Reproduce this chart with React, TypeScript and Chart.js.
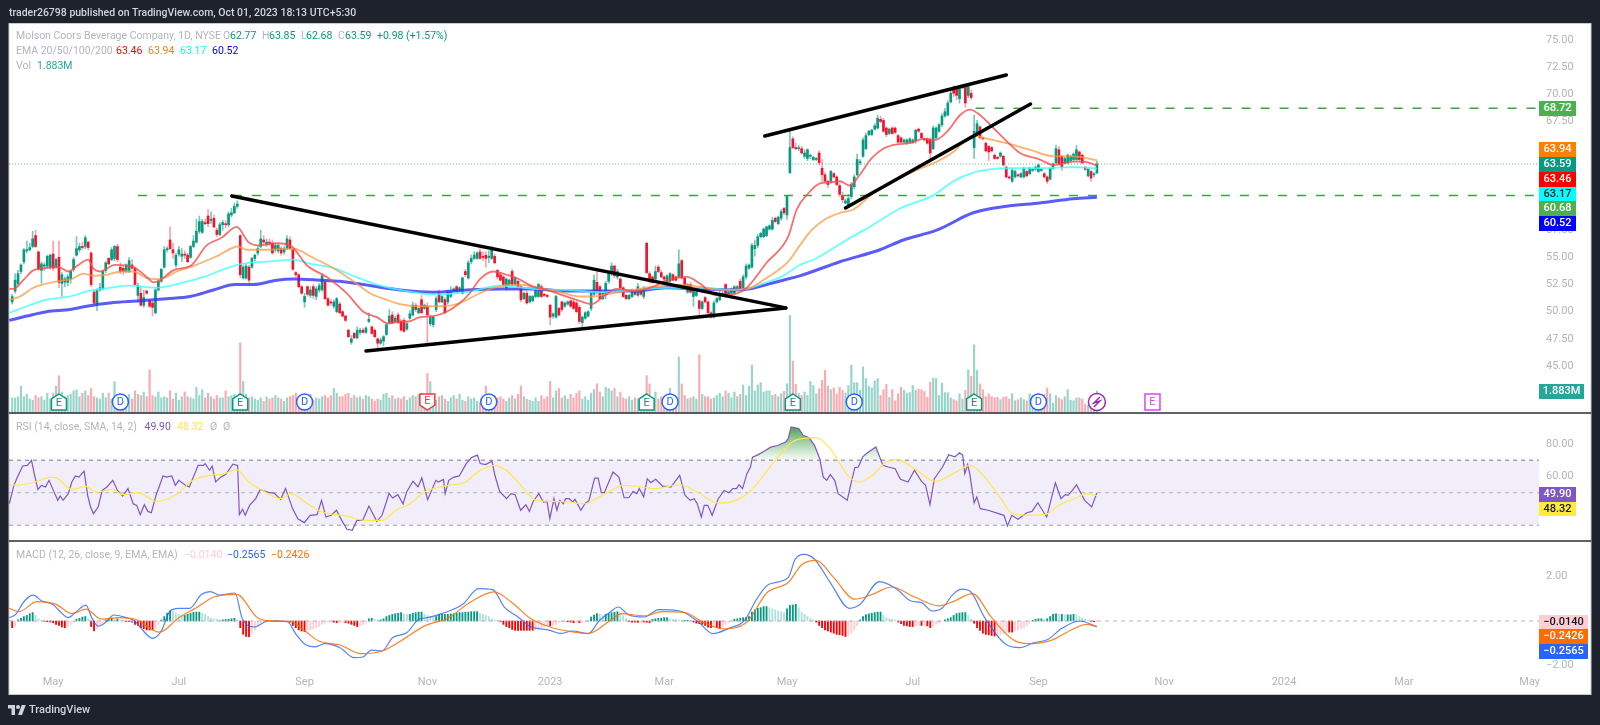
import React, { useEffect, useRef } from "react";
import { Chart, registerables } from "chart.js";

Chart.register(...registerables);

// one row of ten candles per line: open, high, low, close
const ohlc: number[][] = [
  [50.9,51.6,50.7,51.4],[51.9,53.5,51.7,52.9],[52.6,53.8,52.4,53.5],[53.7,54.4,53.5,54.3],[54.6,55.8,54.4,55.7],[55.6,56.5,55.4,55.7],[55.7,56.3,55.6,55.9],[56,57.4,55.9,56.7],[57,57.5,55.9,56],[55.5,55.6,53.8,53.9],
  [53.8,54.6,52.6,54.4],[54.2,54.5,53.8,54.3],[54.2,55.2,54,55.1],[54.1,55.3,53.9,55.2],[55.3,56.5,53.8,54],[54.1,54.9,54,54.8],[55,56.5,52.2,52.7],[52.6,53.6,51.4,53.4],[52.7,53.2,52.3,53],[52.7,53.4,52.4,53.2],
  [53,53.8,52.6,53.7],[53.9,55,53.7,54.8],[55.2,56.9,55.1,55.8],[55.7,56.3,55.5,56],[56,56.4,55.7,55.9],[56,57,55.8,56.8],[56.4,56.5,55.7,55.9],[55.4,55.5,52.3,52.5],[51.8,52,50.6,50.8],[50.7,52.1,50.1,52],
  [52,52.6,51.9,52.2],[52.1,53.8,52,53.7],[53.8,54.6,53.6,54.5],[54.9,55,54.3,54.4],[54.8,55.9,54.7,55.7],[54.9,56.1,54.7,56],[56,56.2,54.6,54.8],[54.1,54.5,53.5,53.7],[54,54.2,53.4,53.7],[53.7,54.4,53.6,54.3],
  [53.7,55,53.6,54.7],[54.3,54.8,53.9,54],[54,54.1,52.4,52.5],[51.5,52.6,50.9,52.4],[51.7,52.3,50.5,50.6],[50.6,52,50.4,51.3],[51.9,52,51.6,51.7],[51,51.1,50.4,50.5],[50.8,51,49.6,50.4],[49.9,52.1,49.8,52],
  [52,53,51.9,52.8],[52.8,54,52.7,53.9],[54.1,56,54,55.7],[55.7,56,55.5,55.8],[56.6,57.8,55.7,55.8],[55.7,56.3,54.9,55.4],[54.3,55.4,54.1,55.2],[55.3,56,55.1,55.7],[55.1,55.8,54.6,55.3],[55.3,55.6,54.9,55.2],
  [55.2,55.4,54.5,54.6],[55,56.1,54.9,56],[56,57,55.9,56.5],[56.4,58.5,56.3,57.4],[57.4,58.8,57.2,58.3],[57.3,58.5,57.2,58.3],[58.2,58.5,58,58.1],[58.8,59.4,57.8,58.1],[58.4,59.2,58.1,58.5],[58.6,58.9,57.7,57.8],
  [57.5,57.7,56.9,57.1],[57.1,58.2,57,58],[58,58.4,57.5,58.2],[58.1,58.4,57.7,58],[58,59.2,57.8,59],[58.9,59.5,58.7,59.1],[59.1,60,59,59.7],[59.7,60.2,59.5,59.9],[57,57.1,53.1,53.4],[53.1,54.3,53,54.1],
  [53.1,54.4,53,54.2],[54.1,54.3,52.7,52.9],[54.1,55,54,54.9],[54.9,55.3,54.7,55.2],[55.4,56,55.2,55.8],[56,57.5,55.9,56.7],[56.6,57,56.2,56.4],[56.2,56.7,56,56.4],[56.4,56.7,56.1,56.3],[56.3,56.6,55.3,55.4],
  [55.7,56.3,55.5,56.1],[55.6,56.2,55.4,56.1],[55.8,56,55.2,55.4],[55.5,56,55.3,55.8],[55.8,57,55.7,56.7],[56.6,56.9,55.7,55.8],[55.7,55.8,53.8,53.9],[53.6,53.7,53.2,53.4],[53.4,53.5,52.2,52.3],[52.3,52.4,51.6,51.7],
  [50.9,51.7,50.4,51.4],[52.3,52.4,51.4,51.6],[51.5,52.3,51.3,52],[52.3,52.5,51.2,51.5],[51.4,52.3,51.1,52.1],[52,52.6,51.8,52.4],[52,53.5,51.9,53.3],[52.7,52.8,51.1,51.2],[51.2,51.3,50.5,50.6],[50.9,51.1,50.6,50.8],
  [50.5,51.1,50.3,50.9],[50,51.3,49.9,51.2],[50.7,50.9,49.8,49.9],[50,50.1,49.5,49.6],[49.6,49.7,49.1,49.2],[48.3,48.4,47.6,47.7],[47.2,47.8,47,47.5],[48,48.1,47.5,47.6],[47.6,48.6,47.5,48.3],[48.1,48.5,47.9,48.3],
  [48.3,48.5,48,48.1],[48.1,48.6,48,48.5],[49.1,49.9,49,49.3],[48.6,48.7,47.9,48],[48.3,48.4,47.6,47.7],[47.5,47.6,46.7,47.1],[47.1,47.6,47,47.4],[47.3,47.8,46.9,47.7],[47.9,48.9,47.8,48.8],[49,50.2,48.9,49.6],
  [49.7,50,48.9,49],[49.1,49.6,49,49.4],[49.7,49.9,48.9,49],[49.1,49.3,48.2,48.3],[49.2,49.4,48.1,48.2],[48.4,49,48.3,48.9],[49.4,50.1,49.3,49.8],[49.7,50.9,49.6,50.6],[50.6,50.8,50,50.2],[49.9,50.4,49.8,50.3],
  [51.1,51.5,49.8,49.9],[50.3,50.7,50.2,50.6],[50.5,50.8,46.9,49.7],[48.9,49.7,48.7,49.5],[48.8,49.6,48.6,49.5],[50.2,51.4,50,51.2],[51.7,52,50.8,50.9],[50.9,51.5,50.8,51.4],[51.1,51.3,49.8,49.9],[50.9,52,50.7,51.8],
  [51.4,52.3,51.3,51.8],[51.9,52.2,51.8,52.1],[52.3,52.4,51.7,51.9],[52,52.3,51.9,52.2],[51.7,53.2,51.6,53.1],[53.7,53.9,53.2,53.4],[53.1,54.7,53,54.5],[54.6,55.2,54.4,54.9],[54.9,55.5,54.8,55.2],[54.9,55.5,54.8,55.4],
  [55.5,55.8,54.8,54.9],[55.1,55.5,54.7,55],[55.2,55.5,54.1,54.9],[55,55.6,54.5,55.1],[54.9,56,54.8,55.7],[55.1,55.3,54.4,54.5],[53.8,53.9,53,53.2],[53.4,53.6,52.8,52.9],[53.2,53.3,52.3,52.5],[52.2,53.1,52,53],
  [52.5,53,52.4,52.9],[53.7,53.9,52.3,52.5],[52.5,53.2,52.4,53.1],[52.8,52.9,52.2,52.3],[52.3,52.4,50.9,51.1],[51.2,51.8,51.1,51.7],[51.7,51.9,50.7,50.8],[50.9,51.5,50.8,51.4],[51,51.5,50.9,51.4],[51.4,52.1,51.3,52],
  [51.4,52.6,51.3,52.5],[52.3,52.5,51.3,51.4],[51.6,51.7,51.4,51.5],[51.5,51.6,51.3,51.4],[50.6,50.7,48.8,49.5],[49.6,49.9,49.4,49.8],[49.5,51.5,49.4,51.4],[50.3,50.4,49.6,49.7],[50.9,51,50,50.2],[50.5,50.9,50.4,50.8],
  [50.7,51,50.6,50.9],[51,51.1,50.4,50.5],[50.9,51.1,50.2,50.3],[50.8,51,49.9,50],[50.4,50.6,48.9,49.1],[49,49.6,48.6,49.5],[49.4,50,49.3,49.9],[49.6,50.1,49.5,50],[50.3,51.9,50.1,51.7],[51.6,53.4,51.5,52.9],
  [52.7,53.7,51.6,51.9],[52.3,52.4,51.1,51.2],[51.2,51.8,51.1,51.7],[51.6,52.8,51.2,52.6],[52.8,53.7,52.6,53.5],[53.5,54.5,53.3,54.2],[54.2,54.3,53.1,53.3],[53.2,53.9,53,53.7],[53,53.1,52.1,52.2],[52.2,52.3,51.3,51.4],
  [51.5,51.6,51.1,51.2],[51.2,51.6,51.1,51.5],[51.4,52.1,51.3,52],[51.8,51.9,51.5,51.6],[51.5,52.6,51.4,52.3],[51.8,51.9,51.5,51.6],[51.4,52.3,51.2,52.1],[56.3,56.4,53.5,53.6],[53.5,53.7,52.6,52.9],[53.2,53.3,52.6,52.7],
  [53,54.2,52.9,53.7],[54.1,54.3,53.6,53.7],[53.6,53.8,53.1,53.2],[53.2,53.3,52.9,53],[52.5,53.4,52.4,53.3],[52.8,53.6,52.7,53.5],[53.4,53.5,52.8,52.9],[53.2,53.3,52.8,52.9],[53.2,55.7,53.1,54.4],[54.7,54.8,53,53.1],
  [53.1,53.2,52.2,52.3],[51.8,52.6,51.7,52.5],[52.5,52.7,51.7,51.8],[51.4,52.1,50.5,52],[51.5,51.9,51.4,51.8],[51,51.1,49.5,50.3],[50.3,51,50.2,50.9],[51.3,51.4,50.8,50.9],[50.9,51,49.8,49.9],[49.9,50,49.4,49.5],
  [49.5,51,49.4,50.8],[50.9,51.3,50.8,51.2],[51.1,52,51,51.5],[51.5,51.8,51.4,51.7],[52.5,52.6,51.3,51.5],[51.6,51.9,51.5,51.8],[51.7,52.2,51.6,52.1],[51.7,52.4,51.6,52.3],[52,52.4,51.9,52.3],[52.8,53,51.9,52],
  [52.1,53.4,51.9,53.2],[53.2,54.4,53,54.2],[54,54.4,53.9,54.3],[54.1,56.3,54,56.1],[55.8,56.6,55.1,56.1],[56.1,57.1,55.9,56.9],[56.9,57.3,56.8,57.2],[56.9,57.7,56.8,57.6],[57,57.9,56.9,57.8],[57.6,58,57.5,57.9],
  [57.6,58.7,57.5,58.4],[58.6,58.7,58.2,58.3],[58.1,58.8,58,58.7],[58.6,59.4,58.4,59.2],[59.5,59.6,58.9,59.1],[58.9,60.7,58.5,60.6],[62.8,66.7,62.7,65.1],[65.9,66.1,65,65.1],[65.1,65.5,64.9,65],[65,65.3,64.8,65],
  [65,65.2,64.5,64.6],[64.3,64.9,64.1,64.6],[64.1,65,63.9,64.9],[64.3,64.5,64.1,64.4],[64,64.3,63.9,64.2],[64,64.2,63.9,64.1],[64.6,64.8,63.5,63.7],[63.2,64,62,62.6],[62.6,62.8,61.9,62],[62,62.1,61.4,61.7],
  [62,63,61.8,62.9],[62.7,62.8,62.3,62.4],[62.4,62.5,61.6,61.7],[61.6,61.8,60.6,60.8],[60.7,61,60,60.3],[60,60.4,59.9,60.2],[59.7,60.8,59.6,60.4],[60.6,61.9,60.4,61.7],[61.5,62.6,61.3,62.4],[62.6,64.5,62.5,64],
  [63.7,64,63.5,63.8],[64.3,66,64.2,65.8],[65,66.4,64.9,66.2],[66.3,66.7,66.2,66.6],[66.3,66.8,66.2,66.7],[66.8,67.3,66.7,67.1],[66.9,68.1,66.8,67.8],[67.7,68,67.4,67.5],[67.6,67.8,66.5,66.6],[66.9,67,66.1,66.3],
  [66.4,66.9,66.3,66.8],[66.9,67,66.3,66.4],[66.9,67,66.4,66.5],[66.2,66.3,65.5,65.6],[66,66.1,65.5,65.6],[65.6,65.9,65.5,65.8],[65.5,65.9,65.4,65.8],[65.6,66,65.5,65.9],[65.6,65.9,65.5,65.8],[65.7,66.8,65.5,66.7],
  [66.8,66.9,66.5,66.6],[66.4,66.5,65.9,66],[65.9,66,65.7,65.8],[65.9,66,65.4,65.5],[65.8,66,63.8,64.6],[65,67.1,64.9,66.9],[66,67,65.9,66.9],[66.6,67.3,66.5,67.2],[67.2,68.2,67,68],[68,68.7,67.9,68.4],
  [68.1,69.4,68,69.2],[69.3,70.3,69.2,70.1],[70.5,70.8,69.8,70.1],[70.5,70.7,69.5,69.9],[69.6,70.8,69.2,70.7],[70.6,70.8,70.5,70.7],[70.7,70.9,68.8,69.2],[69.9,70.8,69.7,70.7],[70.1,70.4,69.5,69.7],[65.1,68.1,64.1,66.6],
  [66.4,67.6,66.2,67.3],[67,67.1,65.9,66],[66,66.1,65.8,65.9],[65.5,65.6,64.7,64.8],[65.2,65.3,63.9,64.7],[65.1,65.2,64.7,64.8],[64.4,64.5,64,64.1],[64.2,64.3,64,64.1],[64.3,64.7,64.2,64.6],[64.3,64.4,63.4,63.5],
  [63.3,63.4,62.3,62.4],[62.4,62.5,62.2,62.3],[62,63.2,61.9,63],[62.4,63,62.3,62.9],[62.6,62.7,62.4,62.5],[62.4,62.8,62.3,62.7],[62.4,63.3,62.3,63.2],[62.9,63,62.4,62.5],[62.7,63.3,62.6,63.2],[63,63.2,62.9,63.1],
  [63.1,63.4,63,63.3],[62.9,63.6,62.8,63.5],[63,63.2,62.9,63.1],[62.7,62.8,62.3,62.4],[62.4,62.5,61.8,62],[62.2,63.3,62.1,63.2],[63.2,63.7,63.1,63.6],[63.7,65.3,63.6,65],[64.9,65.2,63.5,63.6],[64.3,64.4,63,63.3],
  [63.7,64.2,63.6,64.1],[63.7,64.5,63.6,64.4],[63.9,64.4,63.8,64.3],[64,64.6,63.9,64.5],[64,65.3,63.9,64.9],[64.7,64.8,63.9,64],[64.4,64.5,63.6,63.7],[63.3,63.4,63,63.1],[62.5,63.2,62.4,63.1],[62.9,63,62,62.3],
  [62.6,62.8,62.4,62.6],[62.77,63.85,62.68,63.59],
];

const volumes = [
  1.3,1.3,1.4,2.3,1.4,1.6,1.2,1.1,1.5,1.3, 1.4,1.1,1.7,1.2,1.7,2.3,3.2,1.8,1.4,1.5,
  1.6,1.9,2,1.4,1.7,1.9,1.5,2.1,1.4,1.3, 1.2,1.7,1.3,1.7,1.2,2.7,1.5,0.9,0.7,1.2,
  1.6,1.2,1.9,1.6,1.5,1.8,1.4,3.7,1.5,1.4, 1.8,1.3,1.4,1.3,1.9,1.2,1.7,1.1,1.4,1.8,
  1.4,1.3,1.2,2.2,1.5,2,1.3,1.7,1.4,1.2, 1.5,1.3,1.3,1.9,1.4,1.5,1.6,1.4,6,2.7,
  1.6,1.3,1.4,1.2,1.1,1.3,1,1.4,1.2,1.3, 1.5,1.3,1.2,1,1.3,1.4,1.5,1.7,1.4,1.2,
  1.3,1.3,1.6,1.1,1.3,1.2,1.4,1.5,1.3,1.5, 2.1,1.7,1.4,1.4,1.6,1.7,1.3,1.5,1.3,1.4,
  1.2,1.5,1.4,1.2,1,1.2,1.1,1.6,1.7,1.3, 1.5,1.2,1.3,1.2,1.4,1.1,1.3,1.5,1.4,1.6,
  1.7,1.3,3.4,2.7,1.3,1.1,1.4,1.5,1.2,1, 1.3,1.5,1.2,1.6,1.1,1,1.4,1.2,1.3,1,
  0.9,1.4,2.3,1.1,1,1.5,1.3,1.4,1.2,1, 1.3,1.5,1.2,1.6,2.3,1.4,1.2,1.1,1,1.3,
  1,1.5,1.2,1.4,2.7,1.3,1.9,2.1,1.3,1.5, 1.2,1.6,1.3,1.7,1.9,1.2,1.4,1.1,1.7,2,
  2.5,1.8,1.4,2.2,2.1,1.9,2.1,1.4,1.8,1.3, 1.2,1.4,1.1,1.3,1.2,1,1.4,3.2,2.5,1.3,
  1.8,1.2,1.4,1.1,1.4,2.1,1.5,1,4.8,2.5, 1.5,1.2,1.3,1.4,1.2,5,1.6,1.4,1.4,1.2,
  1.3,1.5,1.7,1.4,1.9,1.7,1.3,1.8,1.4,1.6, 2.4,1.5,2.3,4.1,1.9,2.4,2.6,1.8,1.9,1.9,
  1.5,1.6,1.4,1.65,1.85,2.5,8.35,4.45,2.45,1.7, 1.5,1.8,1.5,2.7,2.35,1.65,2.1,2.8,3.65,2.3,
  2,2.15,1.65,2.2,1.95,1.7,2.35,4.1,2.6,2.6, 1.95,3.95,2.95,2.3,2.15,2.75,2.95,1.5,2,2.45,
  1.35,2,1.05,1.65,2.2,1.95,1.7,1.75,2.35,1.95, 2.05,2,1.85,1.35,2.65,3,2.95,1.5,2.55,1.75,
  1.75,1.3,1.15,1.05,1.65,1.2,1.95,3.7,3.15,5.85, 3.65,2.5,2,1.4,1.65,1.4,1.3,1.35,1.15,1.35,
  1.4,1.2,1.65,1.05,1.15,1.3,1.15,1.05,1.65,1.5, 1.3,1.5,1.3,1.6,2.15,1.65,0.85,1.5,1.3,1.15,
  1.4,2,1.1,1.05,1.3,1.3,1.2,0.75,0.65,0.8, 0.9,1.883,
];

const macdHist = [
  -0.3,-0.25,0.05,0.12,0.2,0.25,0.33,0.38,0.25,0.1, 0.03,-0.02,-0.03,-0.05,-0.08,-0.15,-0.2,-0.27,-0.3,-0.25,
  -0.15,-0.05,0.08,0.12,0.18,0.2,0.1,-0.25,-0.45,-0.35, -0.2,-0.1,0.05,0.1,0.13,0.1,0.1,0.05,0.02,-0.02,
  -0.03,-0.05,-0.15,-0.2,-0.3,-0.35,-0.4,-0.4,-0.4,-0.35, -0.15,0.05,0.2,0.35,0.45,0.42,0.35,0.3,0.25,0.25,
  0.3,0.35,0.4,0.4,0.4,0.35,0.3,0.2,0.12,0.08, 0.07,0.05,0.05,0.07,0.08,0.1,0.12,0.05,-0.3,-0.6,
  -0.7,-0.7,-0.55,-0.4,-0.25,-0.1,-0.03,-0.01,0,0, 0.02,0.02,-0.01,-0.01,-0.02,-0.05,-0.2,-0.3,-0.4,-0.45,
  -0.48,-0.45,-0.4,-0.35,-0.3,-0.25,-0.15,-0.1,-0.05,-0.02, -0.05,-0.08,-0.07,-0.05,-0.08,-0.1,-0.15,-0.2,-0.25,-0.2,
  -0.15,-0.1,0.1,0.12,0.08,0.05,0.05,0.1,0.2,0.25, 0.3,0.33,0.35,0.38,0.32,0.3,0.3,0.35,0.38,0.4,
  0.4,0.3,0.25,0.2,0.15,0.2,0.3,0.3,0.3,0.3, 0.32,0.33,0.35,0.38,0.38,0.4,0.4,0.42,0.42,0.42,
  0.33,0.3,0.25,0.2,0.1,0.05,0.03,-0.03,-0.15,-0.25, -0.3,-0.38,-0.42,-0.42,-0.42,-0.42,-0.42,-0.42,-0.42,-0.4,
  -0.35,-0.3,-0.25,-0.2,-0.22,-0.2,-0.15,-0.08,-0.05,-0.03, -0.03,-0.05,-0.08,-0.06,-0.08,-0.06,-0.03,0,0.18,0.27,
  0.33,0.3,0.25,0.3,0.33,0.37,0.4,0.42,0.35,0.25, 0.1,-0.02,-0.05,-0.05,-0.06,-0.05,-0.05,-0.06,-0.08,0.08,
  0.1,0.12,0.13,0.15,0.15,0.1,0.08,0.07,0.05,0.03, 0.03,0.03,0.02,-0.05,-0.1,-0.12,-0.15,-0.2,-0.28,-0.3,
  -0.28,-0.3,-0.33,-0.25,-0.15,-0.08,-0.03,0.08,0.1,0.13, 0.15,0.15,0.2,0.4,0.5,0.57,0.6,0.65,0.65,0.6,
  0.55,0.5,0.45,0.42,0.38,0.55,0.7,0.72,0.75,0.6, 0.4,0.3,0.2,0.1,0.05,-0.05,-0.2,-0.3,-0.4,-0.45,
  -0.5,-0.55,-0.6,-0.62,-0.65,-0.7,-0.65,-0.55,-0.4,-0.2, 0.05,0.2,0.28,0.32,0.35,0.38,0.4,0.4,0.25,0.15,
  0.1,0.08,0.05,-0.05,-0.12,-0.2,-0.22,-0.25,-0.25,-0.22, -0.2,-0.2,-0.18,-0.22,-0.3,-0.25,-0.15,-0.1,-0.02,0.05,
  0.1,0.15,0.25,0.33,0.36,0.38,0.38,0.25,0.1,-0.1, -0.3,-0.42,-0.55,-0.6,-0.62,-0.65,-0.68,-0.65,-0.6,-0.55,
  -0.5,-0.5,-0.5,-0.45,-0.4,-0.35,-0.3,-0.2,-0.1,0.03, 0.08,0.1,0.1,0.08,0.1,0.2,0.3,0.32,0.3,0.3,
  0.28,0.28,0.28,0.3,0.28,0.2,0.15,0.08,0.02,-0.02, -0.03,-0.014,
];

// [bar, value] vertices
const ema20 = [[-1,52.1],[0.4,52.1],[3.8,52.9],[7.2,53.8],[11.2,54],[15.8,54.1],[19.2,53.7],[22.6,54.3],[26,54.8],[27.7,54],[30,53.7],[35.2,54.3],[41.4,54.1],[46,53.2],[48.3,52.7],[50.6,52.9],[55.1,53.8],[61.4,54.3],[66.5,56.1],[71.6,56.8],[76.8,57.8],[80.8,56.4],[84.2,56.1],[90.5,56.3],[95.6,56],[100.7,54.3],[108.1,53.1],[114.4,51.7],[120.1,50],[124.7,49.5],[128.7,48.9],[132.6,49.1],[135.5,49.1],[139.4,49.5],[144,49.6],[148.6,50],[153.1,50.8],[156.5,51.7],[160,53],[164.5,53.7],[169.1,53.4],[172.5,53.1],[178.2,52.3],[181.6,52.1],[187.3,51.6],[193,51.1],[198.2,50.7],[202.2,51.4],[206.7,52.1],[212.4,51.9],[219.3,52.3],[223.8,52.9],[230.7,53.2],[235.2,52.6],[240.9,51.5],[246.6,51.6],[251.2,52.2],[258,54.5],[265.4,56.9],[268.3,59.4],[272.3,60.9],[276.3,61.8],[279.7,61.9],[283.1,62],[286.5,61.6],[289.9,62.6],[293.9,64.1],[297.9,65],[302.5,65.4],[307,65.5],[311.6,65.9],[315.6,65.8],[320.2,66.7],[324.2,68.1],[327.6,68.6],[331,68.1],[335.6,66.9],[340.1,65.7],[344.7,64.6],[351.5,64],[356.1,63.5],[362.9,63.8],[366.3,63.8],[371,63.46]];
const ema50 = [[-1,51.1],[2.7,51.4],[7.2,52.2],[15.2,52.8],[20.3,53],[24.3,53.5],[27.7,53.3],[32.3,53.4],[37.4,53.7],[41.4,53.7],[46,53.1],[50.6,53],[56.3,53.7],[61.9,54.2],[69.9,55.1],[77.3,56],[80.2,55.7],[87.1,55.7],[96.2,55.8],[101.9,55.1],[109.9,54],[116.7,52.8],[122.4,51.7],[128.1,51.1],[132.6,50.7],[139.4,50.5],[147.4,50.5],[153.1,50.8],[160,51.7],[164.5,52.2],[172.5,52.5],[180.5,52.2],[187.3,51.8],[194.2,51.4],[198.7,51.4],[203.3,51.6],[210.1,51.9],[219.3,52.3],[228.4,52.5],[235.2,52.3],[242.1,52],[251.2,52.1],[258,53.1],[265.4,54.6],[269.4,56.1],[273.4,57.5],[277.4,58.4],[283.1,59.1],[287.7,59.4],[294.5,60.9],[300.2,61.8],[308.2,62.9],[316.2,63.8],[321.9,64.7],[328.7,66.2],[332.1,66],[340.1,65.5],[348.1,64.9],[356.1,64.3],[362.9,64.3],[371,63.94]];
const ema100 = [[-1,49.9],[5,50.5],[11.8,51.1],[19.8,51.4],[26,51.9],[33.4,52.2],[40.3,52.4],[48.9,52.2],[57.4,52.6],[65.4,53.2],[73.4,54],[78.5,54.4],[87.1,54.6],[96.2,54.8],[100.7,54.5],[109.9,54],[116.7,53.3],[124.7,52.5],[132.6,52],[144,51.6],[155.4,51.8],[166.8,52.4],[178.2,52.1],[189.6,52],[201,51.8],[212.4,52],[223.8,52.2],[235.2,52.2],[246.6,52],[251.2,52.1],[258,52.7],[263.7,53.3],[269.4,54.3],[275,54.9],[280,55.7],[285.4,56.6],[294.5,58],[303.6,59.5],[315,60.7],[321.9,62],[328.7,62.8],[334.4,63.1],[340.1,63.2],[351.5,63.2],[362.9,63.3],[371,63.17]];
const ema200 = [[-1,49.2],[5,49.6],[11.8,50],[19.8,50.2],[25.5,50.5],[33.4,50.8],[43.7,51],[52.8,51.2],[60.8,51.4],[68.8,52],[76.2,52.5],[82.5,52.5],[90.5,52.9],[96.2,53],[105.3,52.9],[112.1,52.8],[120.1,52.5],[126.9,52.2],[132.6,52],[144,51.8],[155.4,52],[166.8,52.1],[178.2,52.1],[189.6,51.9],[201,51.9],[212.4,51.9],[223.8,52.2],[235.2,52.1],[246.6,52],[252.3,52.1],[258,52.5],[263.7,52.9],[269.4,53.3],[283.1,54.6],[296.8,55.7],[304.8,56.6],[316.2,57.5],[328.7,59.1],[340.1,59.7],[351.5,60],[362.9,60.4],[371,60.52]];

const rsi = [[-1,43.2],[0.6,54.5],[1.8,59.6],[3.6,66.4],[5.2,66.8],[6.6,69.9],[7.8,59.6],[8.8,52],[10,54.5],[11.4,53.5],[12.6,57.6],[13.8,52.5],[15.6,45.3],[16.4,48],[17.4,45.3],[19.2,49.4],[20.4,56.6],[21.6,60.3],[22.8,59.6],[24.6,63.3],[25.8,48.4],[26.8,41.2],[27.8,37.1],[29.4,41.2],[30.8,51.4],[32.4,53.5],[34.4,57.6],[36,51.4],[37.8,48],[39.6,52.5],[41.4,43.2],[42.6,42.2],[43.8,36.5],[45.2,42.6],[46.4,38.5],[47.6,37.7],[49.2,48.4],[51.6,60.3],[52.8,59.6],[54.6,60.3],[55.8,54.5],[57,57.6],[59.4,54.5],[60.6,53.5],[63.6,66.8],[65.4,66.8],[66,67.9],[67.5,63.8],[68.4,66.4],[69.6,56.6],[71.4,59.6],[73,61.1],[75.5,67.5],[77.1,66.8],[77.7,36.5],[78.8,39.8],[79.7,36.1],[81.2,42.2],[83.3,46.4],[84.8,52],[88.1,50],[89.6,49.7],[91.8,45.9],[93.5,52.5],[95.9,40.2],[97.7,34],[99.9,31.6],[101.9,36.1],[104.3,36.5],[105.8,45.3],[107.3,35],[109.1,36.1],[110.9,39.2],[112.7,33],[114.5,27.5],[116.3,26.9],[117.9,33],[119.9,33],[122,41.8],[124.7,32.4],[126.5,36.1],[128.9,49.6],[130.1,46.7],[131.9,48.8],[133.7,43],[134.9,50.4],[137.1,57],[138.8,53.5],[140.1,59.1],[142.1,45.7],[144.9,57.6],[145.7,56.6],[147.5,58.2],[148.1,49.4],[149.3,57.6],[151.1,59.6],[152.9,60.3],[155.3,67.9],[157.1,71.6],[159.1,73.1],[160.1,67.9],[161.9,67.3],[164.1,69.4],[165.1,60.7],[166.7,50.8],[169.1,46.3],[170.6,49.4],[172,48.8],[173.9,39.2],[175.7,42.6],[176.9,38.5],[178.1,44.3],[180.1,49.4],[181.7,44.3],[182.9,44.7],[183.9,34],[185.3,46.4],[186.3,39.2],[187.3,45.3],[188.5,43.2],[189.3,46.3],[190.5,46.3],[191.7,44.3],[192.5,45.9],[194.5,39.2],[195.9,43.2],[197.3,45.3],[199.2,59],[200.4,59],[201.5,50],[202.5,50],[205.5,62.7],[207.5,59.6],[209.3,46.9],[210.9,46.9],[212.4,50.8],[213.6,49.4],[214.5,52.5],[216,47.4],[217.2,58.6],[218.4,56.2],[220.1,58.2],[222.5,53.9],[224.1,53.9],[225.3,53.5],[228.3,60.7],[230.1,48.4],[231.9,45.3],[233.3,46.3],[234.3,43.2],[235.7,35],[236.7,42.2],[237.9,42.2],[239.4,36.1],[241.5,46.3],[243.5,51.4],[245.1,50],[246.5,52.5],[247.7,52.5],[248.6,54.9],[249.8,52.5],[251.3,61.7],[252.5,65.8],[253.2,71.9],[255.2,73.4],[257.6,76],[259.4,78],[261.8,79],[264.5,81.1],[265.4,83.2],[266.4,90.4],[269,89.4],[270.5,85.3],[272.6,83.8],[274.4,79.1],[276.2,70.9],[277.4,59.6],[278.6,57.6],[279.8,61.1],[281.3,57.6],[282.5,49.4],[285.6,45.3],[286.8,54.9],[288.2,65.4],[289.4,65.8],[290.9,72],[292.4,74.4],[295.4,78.1],[297.8,66.8],[299.6,65.8],[302,64.7],[303.8,58.2],[306.4,56.6],[308.6,63.8],[311,57],[312.4,54.5],[313.9,42.6],[315.4,58.6],[318.2,65.8],[320.3,73.4],[322.4,72],[324,74.6],[325.1,73.1],[325.8,61.7],[326.8,67.3],[327.5,61.7],[329,43.8],[329.9,47.4],[331.1,40.2],[333.8,39.2],[337.4,37.1],[339.2,36.1],[340.4,29.6],[341.9,36.1],[344,33.7],[347,37.7],[348.8,38.5],[350.8,43.8],[353.8,35],[356.8,56],[358.7,46.3],[360.2,48.8],[361.1,48.4],[362.6,51.4],[364,54.9],[366.8,45.3],[369.2,41.2],[371,49.9]];
const rsiMa = [[-1,54.5],[3,54.9],[7.8,56.6],[13.2,59.6],[15.6,58.6],[20.4,52],[25.2,53.9],[28.8,50.4],[34.2,52],[37.8,48.8],[43.2,50],[49.2,44.7],[55.8,48.4],[61.8,57.6],[67.8,60.7],[72.5,61.7],[76.8,64.2],[80.9,56.6],[85.1,52],[91.8,46.3],[95.3,49.4],[100.1,44.3],[106.1,38.1],[114.5,35.6],[120.5,33],[126.5,33],[131.3,39.2],[136.1,43.2],[140.9,50.4],[149.3,54.5],[154.7,56.2],[159.5,63.1],[164.9,66.8],[169.7,62.7],[175.7,50.8],[179.2,45.3],[183.5,44.7],[189.9,44.3],[195.9,43.2],[200.7,47.4],[204.3,50.8],[209.1,54.5],[212.7,54.1],[219.9,52.5],[228.3,54.9],[234.3,50.4],[241.5,43.6],[247.5,45.3],[252.2,50.4],[260.6,68.9],[267.8,82.2],[275,83.8],[279.8,77],[285.8,60.7],[289.4,56.6],[294.2,60.7],[299,68.9],[302.6,70.5],[308.6,64.8],[315.8,57],[321.8,61.7],[327.8,66.8],[332.6,59.6],[337.4,48.4],[342.2,37.1],[348.2,36.1],[354.2,37.1],[357.8,42.2],[363.8,46.7],[367.4,49.4],[371,48.32]];

const macdLine = [[-1,0.15],[1.2,0.3],[4.2,0.9],[7.2,1.16],[10.2,0.9],[13.8,0.75],[16.2,0.45],[19.2,0.15],[21.6,0.38],[25.2,0.71],[27.2,0.15],[29.4,-0.23],[31.8,-0.08],[34.8,0.27],[39,0.15],[42,0],[44.4,-0.38],[48,-0.78],[51,-0.45],[54,0.45],[57,0.57],[60.6,0.57],[64.8,1.2],[67.8,1.32],[70.8,1.17],[76.2,1.26],[78.6,0.15],[82.8,-0.27],[87.5,0],[94.1,-0.03],[97.1,-0.6],[100.1,-1.05],[103.7,-1.16],[106.8,-1.02],[112.1,-1.2],[116.9,-1.65],[119.9,-1.62],[122.9,-1.31],[126.5,-1.35],[130.1,-0.75],[134.9,-0.53],[139.1,0.08],[142.1,0.15],[146.9,0.33],[154.1,0.75],[159.5,1.46],[164.3,1.41],[168.5,0.6],[173.3,0.15],[176.9,-0.23],[183.9,-0.42],[187.5,-0.56],[191.7,-0.45],[197.1,-0.57],[200.7,0],[204.3,0.38],[207.3,0.63],[210.9,0.27],[216.3,0.18],[221.1,0.51],[228.3,0.45],[234.3,0],[239.7,-0.57],[245.1,-0.33],[250.5,0.03],[254.6,0.98],[258.8,1.65],[265.4,1.95],[267.8,2.78],[270.8,3],[274.4,2.78],[279.8,1.73],[286.4,0.57],[290,0.75],[296.6,1.77],[302.6,1.43],[307.4,0.9],[311,0.83],[314.6,0.45],[318.2,0.6],[321.8,1.2],[324.8,1.43],[327.8,1.32],[332.6,0.15],[339.8,-1.05],[344.6,-1.2],[349.4,-0.98],[354.2,-0.83],[359,-0.33],[365,0],[371,-0.2565]];
const macdSignal = [[-1,0.57],[2.4,0.42],[8.4,0.87],[15,0.75],[20.4,0.33],[25.2,0.53],[30.6,0.08],[36.6,0.15],[42,0.08],[50.4,-0.5],[57,0.15],[63,0.6],[69,1.08],[76.8,1.2],[83.9,0.15],[89.4,0],[95.3,-0.03],[100.1,-0.45],[104.9,-0.9],[112.1,-1.08],[119.3,-1.47],[126.5,-1.35],[133.7,-0.83],[140.9,-0.23],[149.3,0.15],[156.5,0.83],[164.9,1.31],[170.9,0.83],[176.9,0.15],[183.9,-0.27],[189.9,-0.45],[197.1,-0.56],[204.3,0],[208.5,0.33],[216.3,0.23],[222.3,0.42],[230.1,0.38],[236.7,-0.08],[243.3,-0.35],[251,-0.08],[258.2,1.28],[265.4,1.73],[270.2,2.55],[275,2.73],[281,1.95],[288.2,0.98],[294.2,1.2],[300.8,1.53],[308.6,1.08],[317,0.68],[321.8,0.87],[328.4,1.23],[335,0.15],[342.2,-0.83],[347.6,-1.02],[355.4,-0.87],[362.6,-0.38],[367.4,-0.15],[371,-0.2426]];

const trendLines = [
  [[75.1,60.65],[264.6,50.35]],
  [[121,46.39],[264.6,50.35]],
  [[257.4,66.17],[340,71.78]],
  [[285,59.54],[348.3,69.11]],
];
const resistance = 68.72;
const support = 60.68;
const lastClose = 63.59;

const monthBars = [14,57,100,142,184,223,265,308,351,394,435,476,519];
const monthLabels = ["May","Jul","Sep","Nov","2023","Mar","May","Jul","Sep","Nov","2024","Mar","May"];
const earningsBars = [16,78,217,267,329];
const earningsMissBars = [142];
const dividendBars = [37,100,163,225,288,351];
const splitBars = [371];
const futureEarningsBars = [390];

const priceTicks = [45,47.5,50,52.5,55,57.5,60,62.5,65,67.5,70,72.5,75];
const rsiTicks = [40,60,80];
const macdTicks = [-2,2];

const X_MIN = -1.09;
const X_MAX = 522.2;
const UP = "#089981";
const DOWN = "#f0142d";
const FONT = "Roboto, sans-serif";
const GREY = "#b2b5be";

const tags = [
  { text: "68.72", top: 101, bg: "#4caf50", fg: "#fff", w: 37 },
  { text: "63.94", top: 142, bg: "#ff7f00", fg: "#fff", w: 37 },
  { text: "63.59", top: 157, bg: "#089981", fg: "#fff", w: 37 },
  { text: "63.46", top: 172, bg: "#ff0000", fg: "#fff", w: 37 },
  { text: "63.17", top: 186.5, bg: "#00ffff", fg: "#131722", w: 37 },
  { text: "60.68", top: 201, bg: "#4caf50", fg: "#fff", w: 37 },
  { text: "60.52", top: 216, bg: "#0000ff", fg: "#fff", w: 37 },
  { text: "1.883M", top: 384, bg: "#26a69a", fg: "#fff", w: 45 },
  { text: "49.90", top: 487, bg: "#7e57c2", fg: "#fff", w: 37 },
  { text: "48.32", top: 501.5, bg: "#ffeb3b", fg: "#131722", w: 37 },
  { text: "\u22120.0140", top: 614.5, bg: "#ffcdd2", fg: "#131722", w: 49 },
  { text: "\u22120.2426", top: 629, bg: "#ff6d00", fg: "#fff", w: 49 },
  { text: "\u22120.2565", top: 644, bg: "#2962ff", fg: "#fff", w: 49 },
];

const legends = [
  { text: "Molson Coors Beverage Company, 1D, NYSE", x: 16, y: 36, c: GREY },
  { text: "O", x: 223, y: 36, c: GREY }, { text: "62.77", x: 230, y: 36, c: UP },
  { text: "H", x: 262, y: 36, c: GREY }, { text: "63.85", x: 269, y: 36, c: UP },
  { text: "L", x: 301, y: 36, c: GREY }, { text: "62.68", x: 306, y: 36, c: UP },
  { text: "C", x: 338, y: 36, c: GREY }, { text: "63.59", x: 345, y: 36, c: UP },
  { text: "+0.98 (+1.57%)", x: 377, y: 36, c: UP },
  { text: "EMA 20/50/100/200", x: 16, y: 51, c: GREY },
  { text: "63.46", x: 116, y: 51, c: "#ff0000" }, { text: "63.94", x: 148, y: 51, c: "#ff7f00" },
  { text: "63.17", x: 180, y: 51, c: "#00ffff" }, { text: "60.52", x: 212, y: 51, c: "#0000ff" },
  { text: "Vol", x: 16, y: 66, c: GREY }, { text: "1.883M", x: 37, y: 66, c: "#26a69a" },
  { text: "RSI (14, close, SMA, 14, 2)", x: 16, y: 427, c: GREY },
  { text: "49.90", x: 144.5, y: 427, c: "#7e57c2" }, { text: "48.32", x: 177, y: 427, c: "#ffeb3b" },
  { text: "\u00d8", x: 210, y: 427, c: GREY }, { text: "\u00d8", x: 223, y: 427, c: GREY },
  { text: "MACD (12, 26, close, 9, EMA, EMA)", x: 16, y: 555, c: GREY },
  { text: "\u22120.0140", x: 184, y: 555, c: "#ffcdd2" }, { text: "\u22120.2565", x: 227, y: 555, c: "#2962ff" },
  { text: "\u22120.2426", x: 271, y: 555, c: "#ff6d00" },
];

const frame = {
  id: "frame",
  beforeDraw(chart: any) {
    const { ctx } = chart;
    ctx.save();
    ctx.fillStyle = "#1e222d";
    ctx.fillRect(0, 0, 1600, 725);
    ctx.fillStyle = "#ffffff";
    ctx.fillRect(9, 23, 1582, 671);
    ctx.strokeStyle = "#c8cad0";
    ctx.lineWidth = 1;
    ctx.strokeRect(9, 23.5, 1582, 671);
    ctx.restore();
  },
  afterDraw(chart: any) {
    const { ctx, scales } = chart;
    ctx.save();
    ctx.strokeStyle = "#2a2e39";
    ctx.lineWidth = 1.5;
    for (const y of [scales.rsi.top, scales.macd.top]) {
      ctx.beginPath();
      ctx.moveTo(9, y);
      ctx.lineTo(1591, y);
      ctx.stroke();
    }
    ctx.restore();
  },
};

const markers = {
  id: "markers",
  afterDatasetsDraw(chart: any) {
    const { ctx, scales } = chart;
    const y = 402;
    const letter = (x: number, yy: number, t: string, c: string) => {
      ctx.fillStyle = c;
      ctx.font = `11px ${FONT}`;
      ctx.textAlign = "center";
      ctx.textBaseline = "middle";
      ctx.fillText(t, x, yy);
    };
    const house = (bar: number, up: boolean, c: string) => {
      const x = scales.x.getPixelForValue(bar);
      const d = up ? 1 : -1;
      ctx.beginPath();
      ctx.moveTo(x, y - 8 * d);
      ctx.lineTo(x + 7.5, y - 3 * d);
      ctx.lineTo(x + 7.5, y + 8 * d);
      ctx.lineTo(x - 7.5, y + 8 * d);
      ctx.lineTo(x - 7.5, y - 3 * d);
      ctx.closePath();
      ctx.fillStyle = "#fff";
      ctx.fill();
      ctx.strokeStyle = c;
      ctx.lineWidth = 1.5;
      ctx.stroke();
      letter(x, y + 1 * d, "E", c);
    };
    ctx.save();
    earningsBars.forEach((b) => house(b, true, UP));
    earningsMissBars.forEach((b) => house(b, false, "#f23645"));
    dividendBars.forEach((b) => {
      const x = scales.x.getPixelForValue(b);
      ctx.beginPath();
      ctx.arc(x, y, 8, 0, Math.PI * 2);
      ctx.fillStyle = "#fff";
      ctx.fill();
      ctx.strokeStyle = "#2962ff";
      ctx.lineWidth = 1.5;
      ctx.stroke();
      letter(x, y + 0.5, "D", "#2962ff");
    });
    splitBars.forEach((b) => {
      const x = scales.x.getPixelForValue(b);
      ctx.beginPath();
      ctx.arc(x, y, 8.5, 0, Math.PI * 2);
      ctx.fillStyle = "#fff";
      ctx.fill();
      ctx.strokeStyle = "#9c27b0";
      ctx.lineWidth = 1.5;
      ctx.stroke();
      ctx.beginPath();
      ctx.moveTo(x + 3, y - 5);
      ctx.lineTo(x - 3, y + 1);
      ctx.lineTo(x + 3, y - 1);
      ctx.lineTo(x - 3, y + 5);
      ctx.stroke();
    });
    futureEarningsBars.forEach((b) => {
      const x = scales.x.getPixelForValue(b);
      ctx.strokeStyle = "#e040fb";
      ctx.lineWidth = 1.5;
      ctx.strokeRect(x - 7.5, y - 8, 15, 16);
      letter(x, y + 0.5, "E", "#e040fb");
    });
    ctx.restore();
  },
};

const toPoints = (pairs: number[][]) => pairs.map(([x, y]) => ({ x, y }));

const line = (pairs: number[][], yAxisID: string, color: string, width: number, order: number, extra: object = {}) => ({
  type: "line" as const,
  data: toPoints(pairs),
  yAxisID,
  borderColor: color,
  borderWidth: width,
  pointRadius: 0,
  order,
  ...extra,
});

const smooth = { cubicInterpolationMode: "monotone" };

const hline = (value: number, yAxisID: string, color: string, dash: number[], width: number, from = X_MIN) =>
  line([[from, value], [X_MAX, value]], yAxisID, color, width, 3, { borderDash: dash });

const paneAxis = (weight: number, stackWeight: number, min: number, max: number, values: number[]) => ({
  position: "right" as const,
  stack: "panes",
  stackWeight,
  weight,
  min,
  max,
  grid: { display: false, drawTicks: false },
  border: { display: false },
  ticks: {
    autoSkip: false,
    padding: 7,
    color: GREY,
    font: { family: FONT, size: 11 },
    callback: (v: any) => Number(v).toFixed(2).replace("-", "\u2212"),
  },
  afterBuildTicks: (s: any) => {
    s.ticks = values.map((value) => ({ value }));
  },
  afterFit: (s: any) => {
    s.width = 52;
  },
});

function histColor(v: number, i: number) {
  const prev = i > 0 ? macdHist[i - 1] : 0;
  if (v >= 0) return v >= prev ? "#089981" : "#b2dfdb";
  return v <= prev ? "#ff0000" : "#ffcdd2";
}

export default function App() {
  const canvasRef = useRef<HTMLCanvasElement | null>(null);

  useEffect(() => {
    document.body.style.margin = "0";
    document.body.style.background = "#1e222d";
    const canvas = canvasRef.current;
    const ctx = canvas?.getContext("2d");
    if (!canvas || !ctx) return;

    const obGradient = ctx.createLinearGradient(0, 424, 0, 461);
    obGradient.addColorStop(0, "rgba(56,142,60,0.95)");
    obGradient.addColorStop(1, "rgba(76,175,80,0.02)");

    const isUp = (c: number[]) => c[3] >= c[0];

    const chart = new Chart(ctx, {
      type: "bar",
      data: {
        datasets: [
          ...trendLines.map((t) => line(t, "price", "#000000", 3.5, 0, { borderCapStyle: "round" })),
          line(ema20, "price", "rgba(247,75,75,0.8)", 1.8, 1, smooth),
          line(ema50, "price", "rgba(255,152,60,0.75)", 1.8, 1, smooth),
          line(ema100, "price", "rgba(64,255,255,0.8)", 1.8, 1, smooth),
          line(ema200, "price", "rgba(50,50,245,0.8)", 3, 1, smooth),
          hline(resistance, "price", "#3aa63a", [9, 10], 1.5, 329.5),
          hline(support, "price", "#3aa63a", [9, 10], 1.5, 43),
          hline(lastClose, "price", "rgba(8,153,129,0.65)", [1, 2], 1),
          {
            type: "bar" as const,
            data: ohlc.map((c, i) => ({ x: i, y: [c[3], c[0]] })),
            yAxisID: "price",
            backgroundColor: ohlc.map((c) => (isUp(c) ? UP : DOWN)),
            barThickness: 2,
            minBarLength: 1,
            grouped: false,
            order: 5,
          },
          {
            type: "bar" as const,
            data: ohlc.map((c, i) => ({ x: i, y: [c[2], c[1]] })),
            yAxisID: "price",
            backgroundColor: ohlc.map((c) => (isUp(c) ? "rgba(8,153,129,0.55)" : "rgba(240,20,45,0.4)")),
            barThickness: 1,
            grouped: false,
            order: 6,
          },
          {
            type: "bar" as const,
            data: volumes.map((v, i) => ({ x: i, y: v })),
            yAxisID: "volume",
            backgroundColor: volumes.map((_, i) =>
              ohlc[i] && isUp(ohlc[i]) ? "rgba(8,153,129,0.42)" : "rgba(242,54,69,0.42)"
            ),
            barThickness: 1.5,
            grouped: false,
            order: 8,
          },
          line([[X_MIN, 70], [X_MAX, 70]], "rsi", "rgba(0,0,0,0)", 0, 9, {
            fill: { target: { value: 30 } },
            backgroundColor: "rgba(126,87,194,0.1)",
          }),
          hline(70, "rsi", "#787b86", [4, 4], 1),
          hline(50, "rsi", "#b2b5be", [4, 4], 1),
          hline(30, "rsi", "#9a9da6", [4, 4], 1),
          line(rsi, "rsi", "#7e57c2", 1.2, 2, {
            fill: { target: { value: 70 }, above: obGradient, below: "rgba(0,0,0,0)" },
          }),
          line(rsiMa, "rsi", "#ffe84d", 1.2, 1, smooth),
          hline(0, "macd", "#b2b5be", [4, 4], 1),
          {
            type: "bar" as const,
            data: macdHist.map((v, i) => ({ x: i, y: v })),
            yAxisID: "macd",
            backgroundColor: macdHist.map(histColor),
            barThickness: 1.2,
            grouped: false,
            order: 4,
          },
          line(macdLine, "macd", "#2962ff", 1.2, 2, { ...smooth, borderColor: "rgba(41,98,255,0.8)" }),
          line(macdSignal, "macd", "#ff6d00", 1.2, 1, { ...smooth, borderColor: "rgba(255,109,0,0.85)" }),
        ] as any,
      },
      options: {
        animation: false,
        responsive: false,
        devicePixelRatio: 1,
        events: [],
        layout: { padding: { top: 24, left: 9, right: 9, bottom: 31 } },
        plugins: { legend: { display: false }, tooltip: { enabled: false } },
        scales: {
          x: {
            type: "linear",
            offset: false,
            min: X_MIN,
            max: X_MAX,
            grid: { display: false, drawTicks: false, offset: false },
            border: { display: false },
            ticks: {
              autoSkip: false,
              maxRotation: 0,
              padding: 5,
              color: GREY,
              font: { family: FONT, size: 11 },
              callback: (v: any) => monthLabels[monthBars.indexOf(Number(v))] ?? "",
            },
            afterBuildTicks: (s: any) => {
              s.ticks = monthBars.map((value) => ({ value }));
            },
            afterFit: (s: any) => {
              s.height = 23;
            },
          },
          price: paneAxis(0, 389, 40.68, 76.47, priceTicks),
          rsi: paneAxis(1, 128, 20.3, 99, rsiTicks),
          macd: paneAxis(2, 130, -2.25, 3.6, macdTicks),
          volume: { position: "right", display: false, min: -22.08, max: 33.3, weight: 3 },
        } as any,
      },
      plugins: [frame, markers],
    });

    return () => {
      chart.destroy();
    };
  }, []);

  const textStyle: React.CSSProperties = {
    position: "absolute",
    fontFamily: FONT,
    fontSize: 10.5,
    lineHeight: "14px",
    whiteSpace: "nowrap",
  };

  return (
    <div style={{ position: "relative", width: 1600, height: 725, overflow: "hidden" }}>
      <canvas ref={canvasRef} width={1600} height={725} style={{ display: "block" }} />
      <div style={{ ...textStyle, left: 9, top: 6, fontSize: 10.5, fontWeight: 500, color: "#d1d4dc" }}>
        trader26798 published on TradingView.com, Oct 01, 2023 18:13 UTC+5:30
      </div>
      {legends.map((l, i) => (
        <div key={i} style={{ ...textStyle, left: l.x, top: l.y - 7, color: l.c }}>
          {l.text}
        </div>
      ))}
      {tags.map((t, i) => (
        <div
          key={i}
          style={{
            ...textStyle,
            left: 1539,
            top: t.top,
            width: t.w,
            height: 14.5,
            fontSize: 11,
            lineHeight: "14.5px",
            background: t.bg,
            color: t.fg,
            fontWeight: 500,
            textAlign: "center",
          }}
        >
          {t.text}
        </div>
      ))}
      <svg style={{ position: "absolute", left: 8, top: 704 }} width="18" height="12" viewBox="0 0 36 24" fill="#d1d4dc">
        <path d="M14 22H7V9H0V2h14v20zM28 22h-8l7.5-20h8L28 22z" />
        <circle cx="20" cy="6" r="4" />
      </svg>
      <div style={{ ...textStyle, left: 29, top: 703, fontSize: 11, fontWeight: 500, color: "#d1d4dc" }}>TradingView</div>
    </div>
  );
}
